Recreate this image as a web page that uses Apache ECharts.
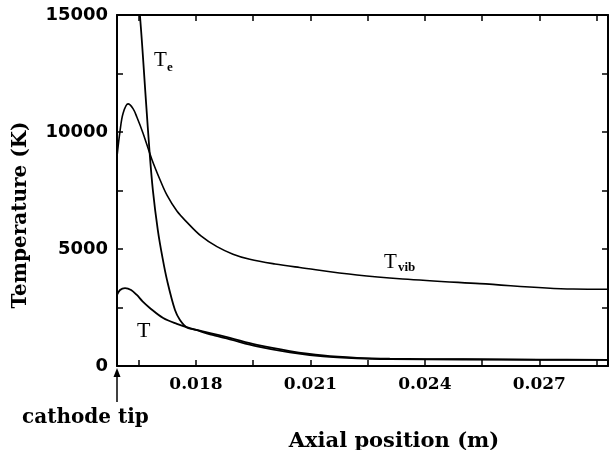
<!DOCTYPE html>
<html>
<head>
<meta charset="utf-8">
<script src="https://cdn.jsdelivr.net/npm/echarts@6/dist/echarts.min.js"></script>
<style>html,body{margin:0;padding:0;background:#fff;}#c{width:609px;height:450px;}</style>
</head>
<body>
<div id="c"></div>
<script>
// ---- data ----
const xMin = 0.01593, xMax = 0.0288;
const yMin = 0, yMax = 15000;
const xTickValues = [0.0165, 0.018, 0.0195, 0.021, 0.0225, 0.024, 0.0255, 0.027, 0.0285];
const xLabelValues = [0.018, 0.021, 0.024, 0.027];

const tvibX = [0.01593, 0.01601, 0.01609, 0.01622, 0.01635, 0.01645, 0.01661, 0.01684, 0.01706, 0.01724, 0.01750, 0.01776, 0.01813, 0.01855, 0.01897, 0.01941, 0.02007, 0.02072, 0.02222, 0.02342, 0.02544, 0.02788, 0.0288];
const tvibY = [8950, 10050, 10800, 11200, 11000, 10640, 9960, 8850, 7950, 7300, 6620, 6150, 5560, 5100, 4780, 4560, 4360, 4210, 3890, 3720, 3520, 3290, 3280];

const teX = [0.01625, 0.01653, 0.01669, 0.01678, 0.01687, 0.01700, 0.01712, 0.01724, 0.01745, 0.01758, 0.01776, 0.01800, 0.01837, 0.01889, 0.0196, 0.02046, 0.02133, 0.02222, 0.02308, 0.0250, 0.0270, 0.0288];
const teY = [20000, 15000, 11300, 9230, 7520, 5810, 4650, 3680, 2390, 1970, 1650, 1540, 1350, 1140, 840, 585, 410, 325, 292, 278, 266, 258];

const tX = [0.01593, 0.01601, 0.01614, 0.0163, 0.01645, 0.0166, 0.01679, 0.01714, 0.0175, 0.01784, 0.01837, 0.01889, 0.0196, 0.02046, 0.02133, 0.02222, 0.02308, 0.0250, 0.0270, 0.0288];
const tY = [3035, 3250, 3330, 3250, 3035, 2760, 2480, 2050, 1800, 1620, 1410, 1200, 900, 640, 450, 350, 310, 290, 275, 265];

const yTitle = 'Temperature (K)';
const xTitle = 'Axial position (m)';
const tipLabel = 'cathode tip';

function pairs(xs, ys) { return xs.map((x, i) => [x, ys[i]]); }

const chart = echarts.init(document.getElementById('c'), null, {renderer: 'canvas'});
const black = '#000';
const axisLineStyle = {color: black, width: 2};
const tickStyle = {color: black, width: 1.5};

const lineSeries = (name, data, w) => ({
  name, type: 'line', data, showSymbol: false, smooth: 0.35,
  lineStyle: {color: black, width: w}, clip: true, silent: true, animation: false
});

chart.setOption({
  animation: false,
  backgroundColor: '#fff',
  grid: {left: 117, right: 1, top: 15, bottom: 84},
  xAxis: [
    {type: 'value', min: xMin, max: xMax, position: 'bottom',
     axisLine: {show: true, onZero: false, lineStyle: axisLineStyle},
     axisTick: {show: true, inside: true, length: 6, customValues: xTickValues, lineStyle: tickStyle},
     axisLabel: {show: true, customValues: xLabelValues, margin: 10, formatter: v => v.toFixed(3),
       color: black, fontFamily: 'DejaVu Serif', fontWeight: 'bold', fontSize: 17},
     splitLine: {show: false}},
    {type: 'value', min: xMin, max: xMax, position: 'top',
     axisLine: {show: true, onZero: false, lineStyle: axisLineStyle},
     axisTick: {show: true, inside: true, length: 6, customValues: xTickValues, lineStyle: tickStyle},
     axisLabel: {show: false}, splitLine: {show: false}}
  ],
  yAxis: [
    {type: 'value', min: yMin, max: yMax, interval: 2500, position: 'left',
     axisLine: {show: true, onZero: false, lineStyle: axisLineStyle},
     axisTick: {show: true, inside: true, length: 6, lineStyle: tickStyle},
     axisLabel: {margin: 9, formatter: v => (v % 5000 === 0 ? String(v) : ''),
       color: black, fontFamily: 'DejaVu Sans', fontWeight: 'bold', fontSize: 18},
     splitLine: {show: false}},
    {type: 'value', min: yMin, max: yMax, interval: 2500, position: 'right',
     axisLine: {show: true, onZero: false, lineStyle: axisLineStyle},
     axisTick: {show: true, inside: true, length: 6, lineStyle: tickStyle},
     axisLabel: {show: false}, splitLine: {show: false}}
  ],
  series: [
    lineSeries('Tvib', pairs(tvibX, tvibY), 1.6),
    lineSeries('Te', pairs(teX, teY), 1.8),
    lineSeries('T', pairs(tX, tY), 1.8)
  ]
});

const p0 = chart.convertToPixel({xAxisIndex: 0, yAxisIndex: 0}, [xMin, 0]);
const ax = p0[0], ay = p0[1];
const serif = 'Liberation Serif';
chart.setOption({
  graphic: [
    // cathode tip arrow
    {type: 'line', shape: {x1: ax, y1: ay + 9, x2: ax, y2: ay + 36}, style: {stroke: black, lineWidth: 1.5}},
    {type: 'polygon', shape: {points: [[ax - 3.5, ay + 11], [ax + 3.5, ay + 11], [ax, ay + 2]]}, style: {fill: black}},
    {type: 'text', left: 22, top: 408, style: {text: tipLabel, fill: black, font: 'bold 20px "DejaVu Serif"'}},
    {type: 'text', x: 394, y: 431, style: {text: xTitle, fill: black, font: 'bold 21px "DejaVu Serif"', align: 'center', verticalAlign: 'top'}},
    {type: 'text', x: 21, y: 215, rotation: Math.PI / 2, style: {text: yTitle, fill: black, font: 'bold 20px "DejaVu Serif"', align: 'center', verticalAlign: 'middle'}},
    // curve labels
    {type: 'text', x: 154, y: 50, style: {text: 'T', fill: black, font: '21px "' + serif + '"'}},
    {type: 'text', x: 167, y: 61, style: {text: 'e', fill: black, font: 'bold 13px "' + serif + '"'}},
    {type: 'text', x: 384, y: 252, style: {text: 'T', fill: black, font: '21px "' + serif + '"'}},
    {type: 'text', x: 398, y: 261, style: {text: 'vib', fill: black, font: 'bold 13px "' + serif + '"'}},
    {type: 'text', x: 137, y: 320, style: {text: 'T', fill: black, font: '22px "' + serif + '"'}}
  ]
});
</script>
</body>
</html>
